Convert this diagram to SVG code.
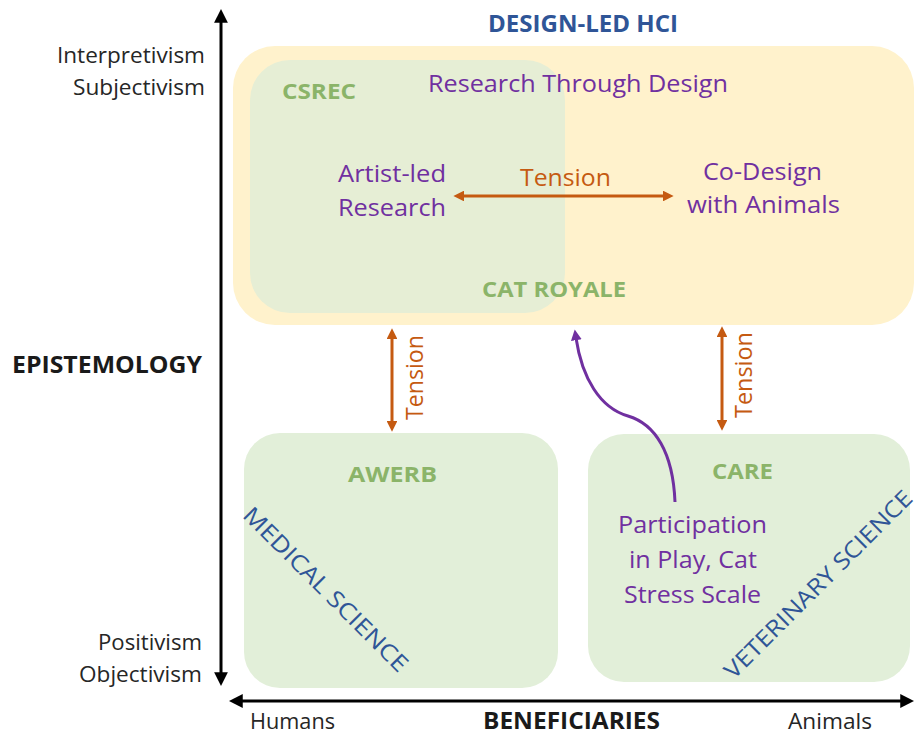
<svg xmlns="http://www.w3.org/2000/svg" width="915" height="736" viewBox="0 0 915 736">
<style>
text{font-family:"Open Sans","Liberation Sans",sans-serif;}
.ax{font-size:22px;fill:#262626;}
.axb{font-size:24px;font-weight:bold;fill:#1a1a1a;}
.pur{font-size:24px;fill:#7030a0;}
.org{font-size:24px;fill:#c55a11;}
.grn{font-size:22px;font-weight:bold;fill:#8bb469;}
.blu{font-size:23px;fill:#2f5597;}
.blub{font-size:24px;font-weight:bold;fill:#2f5597;}
.axis{stroke:#000;stroke-width:3;fill:none;}
.ten{stroke:#c55a11;stroke-width:3;fill:none;}
.crv{stroke:#7030a0;stroke-width:3;fill:none;}
</style>
<defs>
<marker id="ah" viewBox="0 0 10 10" refX="2" refY="5" markerWidth="4.6" markerHeight="4.6" orient="auto-start-reverse" markerUnits="strokeWidth"><path d="M0,0 L10,5 L0,10 z" fill="#000"/></marker>
<marker id="ao" viewBox="0 0 10 10" refX="2" refY="5" markerWidth="3.6" markerHeight="3.6" orient="auto-start-reverse" markerUnits="strokeWidth"><path d="M0,0 L10,5 L0,10 z" fill="#c55a11"/></marker>
<marker id="ap" viewBox="0 0 10 10" refX="2" refY="5" markerWidth="3.6" markerHeight="3.6" orient="auto" markerUnits="strokeWidth"><path d="M0,0 L10,5 L0,10 z" fill="#7030a0"/></marker>
</defs>

<g id="axes">
<line class="axis" x1="221" y1="20" x2="221" y2="675" marker-start="url(#ah)" marker-end="url(#ah)"/>
<line class="axis" x1="240" y1="701" x2="903" y2="701" marker-start="url(#ah)" marker-end="url(#ah)"/>
<text class="ax" x="57" y="63" textLength="148" lengthAdjust="spacingAndGlyphs">Interpretivism</text>
<text class="ax" x="73" y="95" textLength="132" lengthAdjust="spacingAndGlyphs">Subjectivism</text>
<text class="ax" x="98" y="650" textLength="104" lengthAdjust="spacingAndGlyphs">Positivism</text>
<text class="ax" x="79" y="682" textLength="123" lengthAdjust="spacingAndGlyphs">Objectivism</text>
<text class="axb" x="12" y="373" textLength="190" lengthAdjust="spacingAndGlyphs">EPISTEMOLOGY</text>
<text class="ax" x="250" y="729" textLength="85" lengthAdjust="spacingAndGlyphs">Humans</text>
<text class="axb" x="483" y="729" textLength="177" lengthAdjust="spacingAndGlyphs">BENEFICIARIES</text>
<text class="ax" x="788" y="729" textLength="84" lengthAdjust="spacingAndGlyphs">Animals</text>
</g>

<g id="design-led-hci">
<rect x="233" y="46" width="681" height="279" rx="42" fill="#fff2cc"/>
<text class="blub" x="488" y="32" textLength="190" lengthAdjust="spacingAndGlyphs">DESIGN-LED HCI</text>
</g>

<g id="csrec">
<rect x="250" y="60" width="315" height="253" rx="40" fill="#e6eed5"/>
<text class="grn" x="282" y="99" textLength="74" lengthAdjust="spacingAndGlyphs">CSREC</text>
</g>

<g id="research-through-design">
<text class="pur" x="428" y="92" textLength="300" lengthAdjust="spacingAndGlyphs">Research Through Design</text>
</g>

<g id="artist-led">
<text class="pur" x="338" y="182" textLength="108" lengthAdjust="spacingAndGlyphs">Artist-led</text>
<text class="pur" x="338" y="216" textLength="108" lengthAdjust="spacingAndGlyphs">Research</text>
</g>

<g id="co-design">
<text class="pur" x="703" y="180" textLength="119" lengthAdjust="spacingAndGlyphs">Co-Design</text>
<text class="pur" x="687" y="213" textLength="153" lengthAdjust="spacingAndGlyphs">with Animals</text>
</g>

<g id="cat-royale">
<text class="grn" x="482" y="297" textLength="144" lengthAdjust="spacingAndGlyphs">CAT ROYALE</text>
</g>

<g id="awerb">
<rect x="244" y="433" width="314" height="255" rx="36" fill="#e2efd9"/>
<text class="grn" x="348" y="482" textLength="89" lengthAdjust="spacingAndGlyphs">AWERB</text>
<text class="blu" transform="translate(320,595) rotate(45)" text-anchor="middle" textLength="222" lengthAdjust="spacingAndGlyphs">MEDICAL SCIENCE</text>
</g>

<g id="care">
<rect x="588" y="434" width="322" height="248" rx="36" fill="#e2efd9"/>
<text class="grn" x="712" y="479" textLength="61" lengthAdjust="spacingAndGlyphs">CARE</text>
<text class="pur" x="618" y="533" textLength="149" lengthAdjust="spacingAndGlyphs">Participation</text>
<text class="pur" x="629" y="568" textLength="128" lengthAdjust="spacingAndGlyphs">in Play, Cat</text>
<text class="pur" x="624" y="603" textLength="137" lengthAdjust="spacingAndGlyphs">Stress Scale</text>
<text class="blu" transform="translate(824,590) rotate(-45)" text-anchor="middle" textLength="255" lengthAdjust="spacingAndGlyphs">VETERINARY SCIENCE</text>
</g>

<g id="connectors">
<line class="ten" x1="462" y1="196" x2="665" y2="196" marker-start="url(#ao)" marker-end="url(#ao)"/>
<text class="org" x="520" y="186" textLength="91" lengthAdjust="spacingAndGlyphs">Tension</text>
<line class="ten" x1="392" y1="337" x2="392" y2="423" marker-start="url(#ao)" marker-end="url(#ao)"/>
<text class="org" transform="translate(423,420) rotate(-90)" textLength="85" lengthAdjust="spacingAndGlyphs">Tension</text>
<line class="ten" x1="722" y1="335" x2="722" y2="422" marker-start="url(#ao)" marker-end="url(#ao)"/>
<text class="org" transform="translate(752,418) rotate(-90)" textLength="86" lengthAdjust="spacingAndGlyphs">Tension</text>
<path class="crv" d="M675,502 C673,452 655,424 628,416 C600,408 582,378 576,338" marker-end="url(#ap)"/>
</g>
</svg>
